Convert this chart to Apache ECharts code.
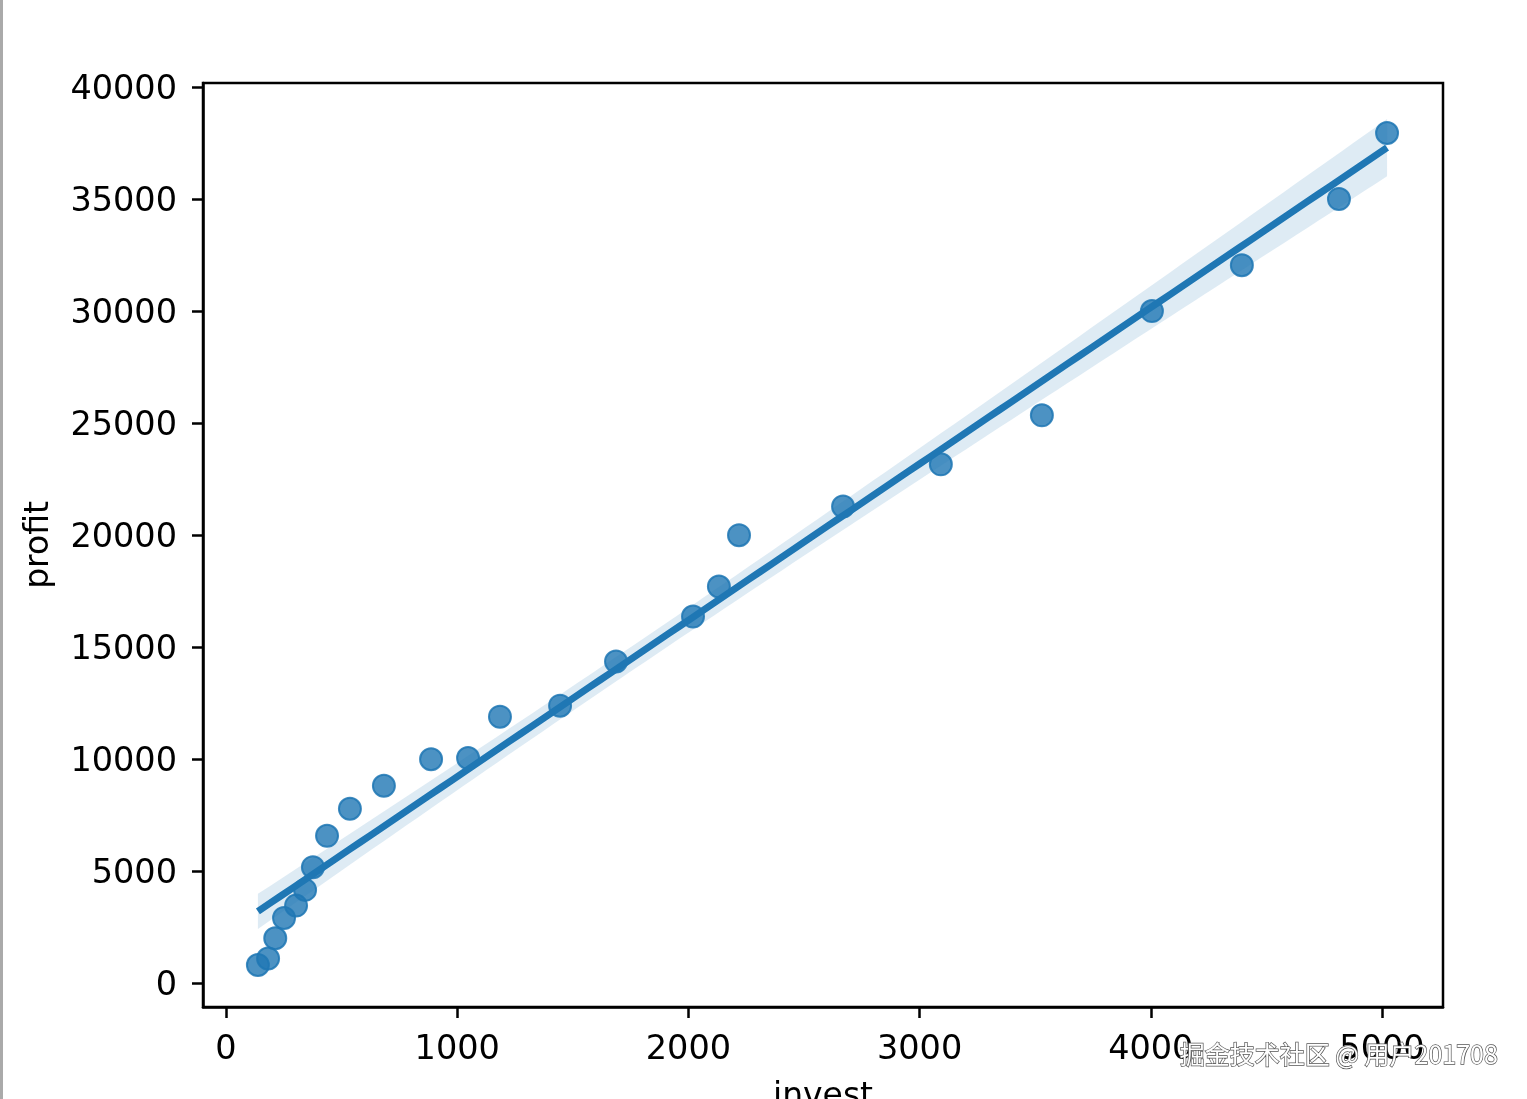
<!DOCTYPE html>
<html>
<head>
<meta charset="utf-8">
<script src="https://cdn.jsdelivr.net/npm/echarts@6/dist/echarts.min.js"></script>
<style>
html,body{margin:0;padding:0;background:#fff;}
#chart{width:1527px;height:1099px;}
</style>
</head>
<body>
<div id="chart"></div>
<script>
// ---- data ----
const invest = [138, 182, 213, 251, 303, 342, 376, 437, 536, 683, 887, 1047, 1185, 1445, 1687, 2020, 2132, 2219, 2669, 3092, 3529, 4005, 4394, 4814, 5022];
const profit = [818, 1108, 2011, 2918, 3467, 4169, 5183, 6582, 7788, 8816, 10000, 10054, 11899, 12391, 14357, 16367, 17708, 20000, 21283, 23160, 25349, 30000, 32050, 35000, 37950];
const xTicks = [0, 1000, 2000, 3000, 4000, 5000];
const yTicks = [0, 5000, 10000, 15000, 20000, 25000, 30000, 35000, 40000];
const xName = 'invest';
const yName = 'profit';
const watermark = '掘金技术社区 @ 用户201708';

// ---- linear regression (as seaborn regplot) ----
const n = invest.length;
const xbar = invest.reduce((a, b) => a + b, 0) / n;
const ybar = profit.reduce((a, b) => a + b, 0) / n;
let sxx = 0, sxy = 0;
for (let i = 0; i < n; i++) { sxx += (invest[i] - xbar) ** 2; sxy += (invest[i] - xbar) * (profit[i] - ybar); }
const slope = sxy / sxx;
const intercept = ybar - slope * xbar;
let sse = 0;
for (let i = 0; i < n; i++) { sse += (profit[i] - (intercept + slope * invest[i])) ** 2; }
const s = Math.sqrt(sse / (n - 2));
const tval = 2.069;
const xMinD = Math.min(...invest), xMaxD = Math.max(...invest);
const gridN = 100;
const fitLine = [], bandLo = [], bandHi = [];
for (let k = 0; k < gridN; k++) {
  const x = xMinD + (xMaxD - xMinD) * k / (gridN - 1);
  const yh = intercept + slope * x;
  const se = s * Math.sqrt(1 / n + (x - xbar) ** 2 / sxx);
  fitLine.push([x, yh]);
  bandLo.push([x, yh - tval * se]);
  bandHi.push([x, yh + tval * se]);
}

const chart = echarts.init(document.getElementById('chart'));
const font = 'DejaVu Sans';
const plain = v => String(v);
chart.setOption({
  animation: false,
  backgroundColor: '#fff',
  grid: { left: 203, top: 83, right: 84, bottom: 92, show: true, borderColor: '#000', borderWidth: 2.5, backgroundColor: 'transparent', outerBoundsMode: 'none', containLabel: false },
  xAxis: {
    type: 'value', min: -99.5, max: 5264,
    name: xName, nameLocation: 'middle', nameGap: 74,
    nameTextStyle: { fontFamily: font, fontSize: 33, color: '#000' },
    axisLine: { show: true, onZero: false, lineStyle: { color: '#000', width: 2.5 } },
    axisTick: { show: true, length: 11, lineStyle: { color: '#000', width: 2.5 }, customValues: xTicks },
    axisLabel: { fontFamily: font, fontSize: 33.5, color: '#000', margin: 26, customValues: xTicks, formatter: plain },
    splitLine: { show: false }
  },
  yAxis: {
    type: 'value', min: -1058, max: 40180,
    name: yName, nameLocation: 'middle', nameGap: 147,
    nameTextStyle: { fontFamily: font, fontSize: 33, color: '#000' },
    axisLine: { show: true, onZero: false, lineStyle: { color: '#000', width: 2.5 } },
    axisTick: { show: true, length: 11, lineStyle: { color: '#000', width: 2.5 }, customValues: yTicks },
    axisLabel: {
      fontFamily: font, fontSize: 33.5, color: '#000', margin: 26, customValues: yTicks,
      formatter: v => '{t|' + v + '}',
      rich: { t: { fontFamily: font, fontSize: 33.5, color: '#000', padding: [6, 0, 0, 0] } }
    },
    splitLine: { show: false }
  },
  series: [
    {
      type: 'scatter', z: 2,
      data: invest.map((x, i) => [x, profit[i]]),
      symbolSize: 22,
      itemStyle: { color: 'rgba(31,119,180,0.8)', borderColor: 'rgba(31,119,180,0.85)', borderWidth: 2, opacity: 1 }
    },
    {
      type: 'custom', z: 3, silent: true,
      data: [[xMinD, 0]],
      renderItem: function (params, api) {
        const pts = [];
        bandHi.forEach(p => pts.push(api.coord(p)));
        for (let k = bandLo.length - 1; k >= 0; k--) pts.push(api.coord(bandLo[k]));
        return { type: 'polygon', shape: { points: pts }, style: { fill: 'rgba(31,119,180,0.15)' } };
      }
    },
    {
      type: 'line', z: 4, silent: true,
      data: fitLine, showSymbol: false,
      lineStyle: { color: '#1f77b4', width: 7 }
    }
  ],
  graphic: [
    { type: 'rect', left: 0, top: 0, shape: { width: 3, height: 1099 }, style: { fill: '#aaaaaa' } },
    { type: 'text', left: 1179, top: 1041, z: 100,
      style: { text: watermark, fontFamily: 'Noto Sans CJK SC', fontSize: 25, fill: '#ffffff', stroke: '#555555', lineWidth: 1.4 } }
  ]
});
</script>
</body>
</html>
